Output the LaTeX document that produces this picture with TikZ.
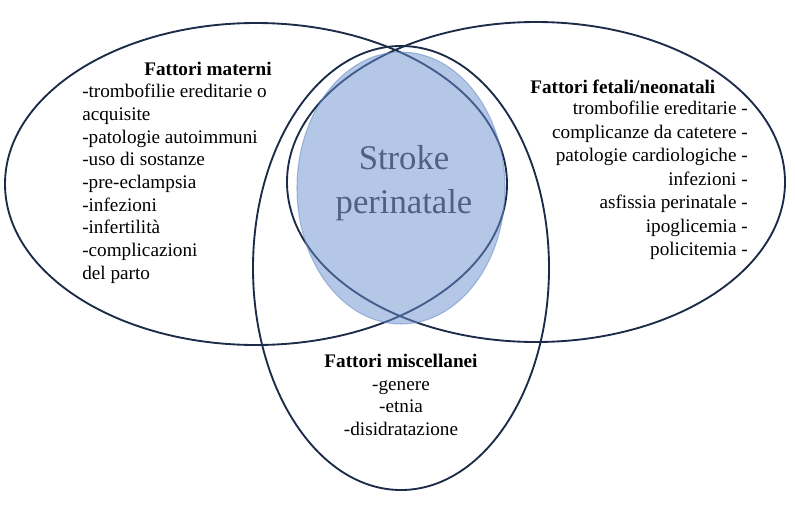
\documentclass[tikz,border=0pt]{standalone}
\usepackage{fontspec}
\setmainfont{Liberation Serif}
\definecolor{linea}{HTML}{1C2B48}
\definecolor{azzurro}{HTML}{698FCD}
\definecolor{bordo}{HTML}{5F84C4}
\definecolor{grigioblu}{HTML}{4F6180}
\begin{document}
\begin{tikzpicture}[x=0.75pt, y=0.75pt,
  insieme/.style={draw=linea, line width=1.4pt},
  elenco/.style={inner sep=0pt, font=\fontsize{14.4}{17}\selectfont},
  titolo/.style={inner sep=0pt, font=\fontsize{14.4}{17}\selectfont\bfseries}]
\useasboundingbox (0,0) rectangle (795,-514);

% tre insiemi
\draw[insieme] (256,-184) ellipse [x radius=251, y radius=161];
\draw[insieme] (536,-182) ellipse [x radius=249, y radius=160];
\draw[insieme] (401,-268) ellipse [x radius=148, y radius=222];

% intersezione
\fill[azzurro, fill opacity=0.5] (401,-188) ellipse [x radius=104, y radius=136];
\draw[bordo, opacity=0.5, line width=0.8pt] (401,-188) ellipse [x radius=104, y radius=136];
\node[anchor=north, align=center, text=grigioblu, inner sep=0pt, font=\fontsize{26}{33}\selectfont] (stroke) at (404,-145) {Stroke\\perinatale};

% fattori materni
\node[titolo, anchor=base east] (materni) at (272,-75) {Fattori materni};
\node[elenco, anchor=north west, align=left] (elmaterni) at (82,-84) {-trombofilie ereditarie o\\acquisite\\-patologie autoimmuni\\-uso di sostanze\\-pre-eclampsia\\-infezioni\\-infertilità\\-complicazioni\\del parto};

% fattori fetali
\node[titolo, anchor=base west] (fetali) at (530,-93) {Fattori fetali/neonatali};
\node[elenco, anchor=north east, align=right, font=\fontsize{14.4}{17.6}\selectfont] (elfetali) at (748,-101) {trombofilie ereditarie -\\complicanze da catetere -\\patologie cardiologiche -\\infezioni -\\asfissia perinatale -\\ipoglicemia -\\policitemia -};

% fattori miscellanei
\node[elenco, anchor=north, align=center] (misc) at (401,-354) {\textbf{Fattori miscellanei}\\-genere\\-etnia\\-disidratazione};
\end{tikzpicture}
\end{document}
